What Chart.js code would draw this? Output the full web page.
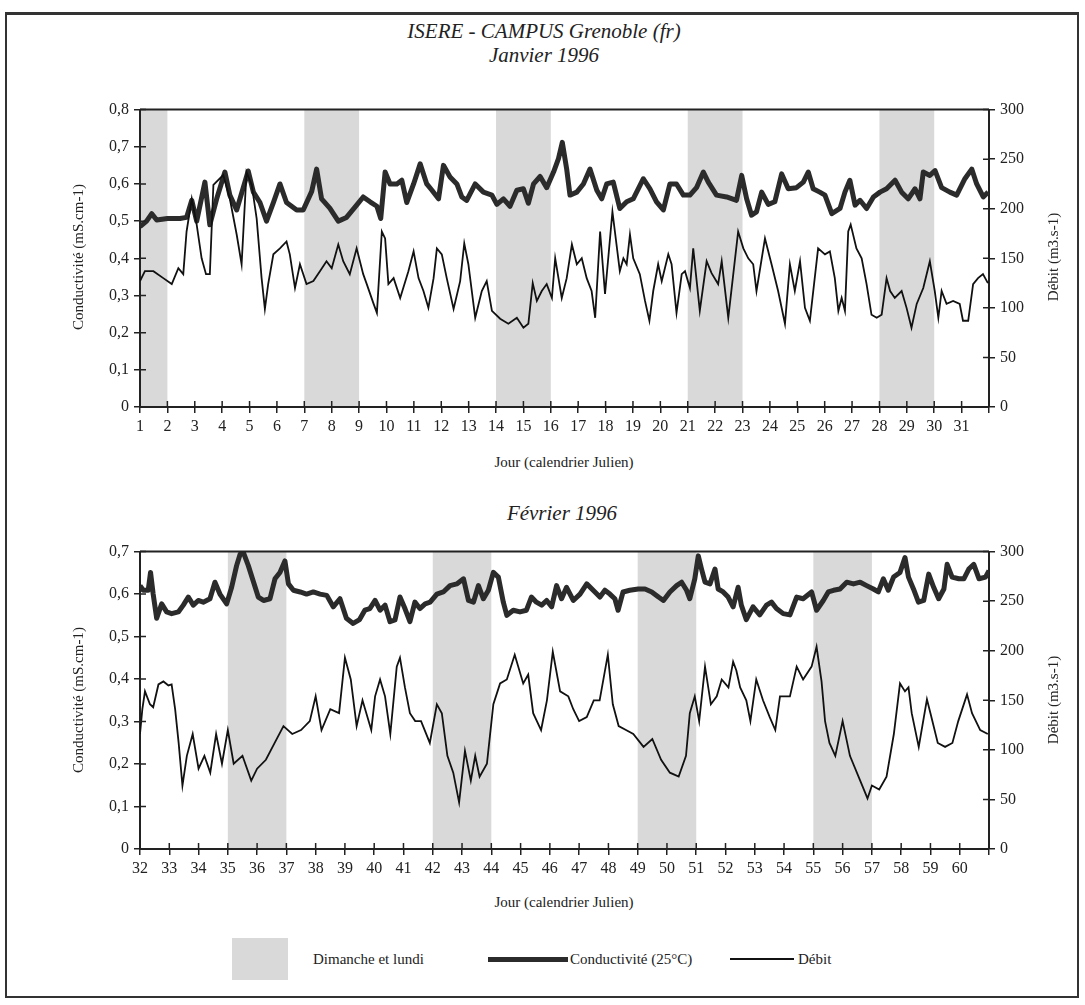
<!DOCTYPE html>
<html>
<head>
<meta charset="utf-8">
<script src="https://cdn.jsdelivr.net/npm/chart.js@4.4.0/dist/chart.umd.min.js"></script>
<style>
body{margin:0;background:#fff;width:1085px;height:1005px;position:relative;overflow:hidden;font-family:"Liberation Serif","Times New Roman",serif;color:#222}
#frame{position:absolute;left:5px;top:12px;width:1074px;height:986px;border:2px solid #333;border-top-width:3px;box-sizing:border-box}
.t{position:absolute;width:400px;margin-left:-200px;text-align:center;font-style:italic;font-size:21px;line-height:24px}
canvas{position:absolute;left:0}
.ax{position:absolute;font-size:15px;white-space:nowrap;transform:translate(-50%,-50%) rotate(-90deg)}
.xt{position:absolute;width:400px;margin-left:-200px;text-align:center;font-size:15px;line-height:18px}
.lg{position:absolute;font-size:15px;line-height:18px;white-space:nowrap}
</style>
</head>
<body>
<div id="frame"></div>
<div class="t" style="left:544px;top:19px">ISERE - CAMPUS Grenoble (fr)</div>
<div class="t" style="left:544px;top:43px">Janvier 1996</div>
<div class="t" style="left:562px;top:501px">Février 1996</div>

<canvas id="c1" width="1085" height="355" style="top:95px"></canvas>
<canvas id="c2" width="1085" height="355" style="top:537px"></canvas>

<div class="ax" style="left:78px;top:257px">Conductivité (mS.cm-1)</div>
<div class="ax" style="left:1053px;top:257px">Débit (m3.s-1)</div>
<div class="ax" style="left:78px;top:700px">Conductivité (mS.cm-1)</div>
<div class="ax" style="left:1053px;top:700px">Débit (m3.s-1)</div>
<div class="xt" style="left:564px;top:453px">Jour (calendrier Julien)</div>
<div class="xt" style="left:564px;top:893px">Jour (calendrier Julien)</div>

<div style="position:absolute;left:232px;top:938px;width:56px;height:42px;background:#d9d9d9"></div>
<div class="lg" style="left:313px;top:950px">Dimanche et lundi</div>
<div style="position:absolute;left:488px;top:957px;width:80px;height:5px;background:#2b2b2b"></div>
<div class="lg" style="left:570px;top:950px">Conductivité (25°C)</div>
<div style="position:absolute;left:730px;top:958px;width:64px;height:2px;background:#111"></div>
<div class="lg" style="left:798px;top:950px">Débit</div>

<script>
// Janvier : conductivité (mS/cm)
var janCondDay = [1.0,1.24,1.43,1.61,2.0,2.46,2.7,2.89,3.07,3.37,
  3.55,3.8,4.1,4.28,4.53,4.95,5.14,5.38,5.62,5.87,
  6.11,6.35,6.72,6.96,7.27,7.45,7.63,7.93,8.24,8.54,
  8.91,9.15,9.4,9.65,9.79,9.95,10.13,10.38,10.56,10.74,
  10.99,11.23,11.47,11.66,11.9,12.08,12.32,12.57,12.75,12.93,
  13.24,13.54,13.85,14.03,14.27,14.51,14.76,15.0,15.18,15.37,
  15.61,15.85,16.1,16.28,16.42,16.58,16.7,16.95,17.19,17.43,
  17.68,17.86,18.04,18.28,18.52,18.77,19.01,19.38,19.62,19.86,
  20.11,20.35,20.59,20.84,21.08,21.32,21.57,21.75,22.05,22.42,
  22.78,22.97,23.15,23.33,23.51,23.7,23.94,24.18,24.43,24.67,
  24.97,25.22,25.4,25.58,25.82,26.01,26.26,26.56,26.74,26.92,
  27.11,27.29,27.53,27.78,28.02,28.26,28.57,28.81,29.05,29.3,
  29.48,29.6,29.84,30.03,30.27,30.57,30.82,31.12,31.37,31.55,
  31.79,31.97];
var janCond = [0.485,0.50,0.52,0.503,0.507,0.507,0.51,0.556,0.50,0.605,
  0.49,0.56,0.632,0.57,0.53,0.635,0.578,0.55,0.50,0.55,
  0.60,0.55,0.53,0.53,0.58,0.64,0.56,0.535,0.50,0.51,
  0.543,0.565,0.552,0.54,0.507,0.632,0.60,0.60,0.61,0.55,
  0.60,0.654,0.60,0.583,0.56,0.65,0.619,0.60,0.565,0.556,
  0.60,0.578,0.57,0.545,0.56,0.54,0.583,0.587,0.548,0.60,
  0.62,0.59,0.632,0.668,0.712,0.64,0.57,0.578,0.60,0.64,
  0.583,0.56,0.60,0.605,0.534,0.552,0.56,0.614,0.587,0.552,
  0.53,0.60,0.60,0.57,0.57,0.59,0.632,0.605,0.57,0.565,
  0.556,0.623,0.56,0.516,0.525,0.578,0.545,0.552,0.627,0.587,
  0.59,0.605,0.632,0.587,0.578,0.57,0.52,0.534,0.578,0.61,
  0.543,0.556,0.534,0.565,0.578,0.587,0.61,0.578,0.56,0.587,
  0.56,0.632,0.623,0.636,0.59,0.578,0.57,0.614,0.64,0.60,
  0.565,0.578];

// Janvier : débit (m3/s)
var janQDay = [1.0,1.18,1.49,1.85,2.16,2.4,2.58,2.7,2.89,3.07,
  3.25,3.41,3.55,3.68,4.04,4.28,4.53,4.71,4.89,5.08,
  5.26,5.44,5.56,5.68,5.87,6.11,6.35,6.47,6.66,6.84,
  7.08,7.33,7.57,7.81,8.0,8.24,8.42,8.66,8.91,9.15,
  9.28,9.53,9.65,9.83,9.95,10.07,10.26,10.5,10.8,10.99,
  11.17,11.35,11.53,11.72,11.84,12.02,12.2,12.45,12.69,12.84,
  12.99,13.24,13.48,13.66,13.85,14.15,14.45,14.76,15.0,15.18,
  15.34,15.49,15.67,15.85,16.04,16.16,16.4,16.58,16.77,16.95,
  17.13,17.31,17.49,17.62,17.8,17.98,18.25,18.52,18.65,18.77,
  18.89,19.01,19.25,19.44,19.6,19.74,19.92,20.05,20.29,20.41,
  20.59,20.78,20.9,21.08,21.2,21.44,21.69,21.87,22.11,22.24,
  22.48,22.84,23.03,23.21,23.39,23.51,23.82,24.06,24.3,24.55,
  24.73,24.91,25.1,25.28,25.46,25.76,26.01,26.19,26.37,26.5,
  26.62,26.74,26.86,26.95,27.16,27.35,27.53,27.71,27.9,28.08,
  28.26,28.39,28.56,28.81,28.99,29.17,29.36,29.6,29.84,30.02,
  30.15,30.27,30.45,30.69,30.93,31.05,31.24,31.42,31.6,31.78,
  31.96];
var janQ = [127,137,137,130,124,140,134,177,210,184,
  150,134,134,224,234,210,174,144,237,224,
  190,130,99,124,154,160,167,154,120,144,
  124,127,137,147,140,164,147,134,160,134,
  124,104,95,177,170,124,130,110,137,157,
  130,117,100,130,160,154,130,99,127,165,
  144,90,117,127,97,89,84,90,80,84,
  125,107,117,124,110,150,110,130,164,144,
  150,130,117,90,177,114,197,137,150,144,
  174,150,134,107,87,117,144,127,154,144,
  95,134,137,120,160,97,147,135,124,147,
  90,177,160,150,144,117,170,144,117,84,
  144,117,147,100,87,160,154,157,130,97,
  110,97,177,184,160,150,124,93,90,93,
  130,117,110,117,100,80,104,120,147,117,
  90,117,104,107,104,87,87,124,130,134,
  125];

// Février : conductivité
var febCondDay = [32.0,32.11,32.28,32.36,32.45,32.57,32.74,32.91,33.08,33.31,
  33.48,33.65,33.82,33.99,34.16,34.39,34.56,34.73,34.96,35.13,
  35.3,35.42,35.53,35.7,35.88,36.04,36.22,36.44,36.61,36.78,
  36.95,37.07,37.24,37.47,37.69,37.92,38.15,38.38,38.6,38.83,
  39.05,39.28,39.5,39.68,39.85,40.03,40.2,40.37,40.54,40.71,
  40.88,41.05,41.22,41.39,41.56,41.74,41.91,42.14,42.36,42.59,
  42.82,43.05,43.22,43.39,43.56,43.73,43.9,44.07,44.24,44.41,
  44.53,44.75,44.98,45.2,45.37,45.54,45.72,45.89,46.06,46.23,
  46.4,46.57,46.8,47.03,47.26,47.54,47.71,47.88,48.05,48.22,
  48.33,48.5,48.73,49.02,49.25,49.48,49.71,49.88,50.1,50.33,
  50.5,50.67,50.78,50.95,51.07,51.18,51.3,51.47,51.64,51.75,
  51.92,52.09,52.26,52.43,52.54,52.71,52.94,53.17,53.4,53.57,
  53.74,53.97,54.2,54.43,54.65,54.94,55.11,55.34,55.51,55.69,
  55.91,56.14,56.37,56.6,56.82,57.05,57.22,57.39,57.56,57.74,
  57.96,58.13,58.25,58.42,58.59,58.77,58.94,59.11,59.28,59.46,
  59.57,59.74,59.97,60.14,60.31,60.48,60.66,60.88,61.0];
var febCond = [0.62,0.609,0.609,0.651,0.60,0.543,0.577,0.558,0.554,0.558,
  0.574,0.593,0.574,0.585,0.581,0.589,0.628,0.60,0.577,0.616,
  0.667,0.694,0.698,0.667,0.628,0.593,0.585,0.589,0.636,0.651,
  0.678,0.624,0.609,0.605,0.60,0.605,0.60,0.597,0.57,0.589,
  0.543,0.531,0.54,0.562,0.566,0.585,0.562,0.574,0.535,0.539,
  0.593,0.566,0.535,0.581,0.566,0.577,0.581,0.60,0.605,0.62,
  0.624,0.636,0.585,0.581,0.62,0.589,0.609,0.651,0.64,0.581,
  0.55,0.562,0.558,0.562,0.593,0.581,0.574,0.585,0.57,0.62,
  0.589,0.616,0.585,0.60,0.624,0.605,0.593,0.609,0.60,0.589,
  0.562,0.605,0.609,0.612,0.612,0.605,0.593,0.585,0.605,0.62,
  0.628,0.609,0.589,0.636,0.69,0.659,0.628,0.624,0.659,0.612,
  0.605,0.593,0.57,0.616,0.574,0.54,0.57,0.551,0.574,0.581,
  0.566,0.554,0.551,0.593,0.589,0.605,0.562,0.585,0.605,0.609,
  0.612,0.628,0.624,0.628,0.62,0.612,0.605,0.636,0.609,0.64,
  0.651,0.686,0.64,0.612,0.581,0.585,0.647,0.616,0.589,0.612,
  0.67,0.64,0.636,0.636,0.659,0.67,0.636,0.64,0.655];

// Février : débit
var febQDay = [32.0,32.08,32.17,32.34,32.45,32.63,32.8,32.97,33.08,33.2,
  33.32,33.45,33.6,33.8,34.0,34.2,34.4,34.6,34.8,35.0,
  35.2,35.5,35.8,36.0,36.3,36.6,36.9,37.2,37.5,37.8,
  38.0,38.2,38.5,38.8,39.0,39.2,39.4,39.6,39.9,40.03,
  40.2,40.37,40.55,40.77,40.88,41.05,41.22,41.4,41.6,41.9,
  42.14,42.31,42.5,42.7,42.9,43.1,43.3,43.45,43.6,43.85,
  44.07,44.3,44.53,44.8,45.09,45.26,45.43,45.7,45.9,46.1,
  46.35,46.63,46.8,47.0,47.26,47.5,47.7,47.98,48.15,48.35,
  48.6,48.85,49.2,49.5,49.8,50.1,50.4,50.65,50.78,50.95,
  51.1,51.3,51.5,51.7,51.87,52.1,52.26,52.37,52.5,52.71,
  52.85,53.05,53.28,53.51,53.7,53.86,54.2,54.43,54.65,54.94,
  55.11,55.28,55.4,55.55,55.75,56.0,56.25,56.6,56.85,57.0,
  57.25,57.5,57.75,57.96,58.13,58.25,58.36,58.6,58.88,59.0,
  59.25,59.5,59.75,59.95,60.25,60.42,60.7,60.96];
var febQ = [116,141,159,146,143,166,169,165,166,141,
  107,64,94,116,81,94,77,116,86,120,
  86,94,69,81,90,107,124,116,120,129,
  154,120,141,137,193,171,124,150,120,154,
  171,154,116,184,193,163,137,129,129,107,
  146,137,94,77,47,99,69,94,73,86,
  146,167,171,196,167,176,137,120,150,199,
  159,154,141,129,133,150,150,196,146,124,
  120,116,103,111,90,77,73,94,137,154,
  129,184,146,154,171,163,189,180,163,150,
  129,171,150,133,120,154,154,184,171,184,
  204,169,129,107,94,129,94,69,51,64,
  60,73,116,167,159,163,137,103,151,137,
  107,103,107,129,156,137,120,116];

// dimanche + lundi
var janBandStart = [1, 7, 14, 21, 28];
var janBandEnd   = [2, 9, 16, 23, 30];
var febBandStart = [35, 42, 49, 55];
var febBandEnd   = [37, 44, 51, 57];

function pts(xs, ys) {
  return xs.map(function(x, i) { return {x: x, y: ys[i]}; });
}

var INK = '#222';
var tickFont = {family: '"Liberation Serif", "Times New Roman", serif', size: 16};

var decor = {
  id: 'decor',
  beforeDraw: function(chart, args, opts) {
    var ctx = chart.ctx, a = chart.chartArea, x = chart.scales.x;
    ctx.save();
    ctx.fillStyle = '#d9d9d9';
    for (var i = 0; i < opts.start.length; i++) {
      var x0 = x.getPixelForValue(opts.start[i]);
      var x1 = x.getPixelForValue(opts.end[i]);
      ctx.fillRect(x0, a.top, x1 - x0, a.bottom - a.top);
    }
    ctx.restore();
  },
  afterDraw: function(chart) {
    var ctx = chart.ctx, a = chart.chartArea, s = chart.scales;
    ctx.save();
    ctx.strokeStyle = INK;
    ctx.lineWidth = 2;
    ctx.beginPath();
    ctx.moveTo(a.left, a.top); ctx.lineTo(a.right, a.top);
    ctx.stroke();
    ctx.lineWidth = 1.5;
    ctx.beginPath();
    s.x.ticks.forEach(function(t) {
      var px = s.x.getPixelForValue(t.value);
      ctx.moveTo(px, a.bottom); ctx.lineTo(px, a.bottom - 6);
    });
    s.y.ticks.forEach(function(t) {
      var py = s.y.getPixelForValue(t.value);
      ctx.moveTo(a.left, py); ctx.lineTo(a.left + 6, py);
    });
    s.y2.ticks.forEach(function(t) {
      var py = s.y2.getPixelForValue(t.value);
      ctx.moveTo(a.right, py); ctx.lineTo(a.right - 6, py);
    });
    ctx.stroke();
    ctx.restore();
  }
};

function axisCfg(pos, min, max, step, fmt, w) {
  return {
    position: pos, min: min, max: max,
    ticks: {stepSize: step, color: INK, font: tickFont, padding: 5, callback: fmt},
    grid: {drawOnChartArea: false, tickLength: 6, color: INK, lineWidth: 1.5},
    border: {color: INK, width: 2},
    afterFit: function(sc) { sc.width = w; }
  };
}

function makeChart(id, xmin, xmax, cond, cDay, q, qDay, cmax, bs, be) {
  return new Chart(document.getElementById(id), {
    type: 'line',
    data: {
      datasets: [
        {label: 'Débit', data: pts(qDay, q), yAxisID: 'y2', borderColor: '#111', borderWidth: 1.8,
         pointRadius: 0, tension: 0},
        {label: 'Conductivité (25°C)', data: pts(cDay, cond), yAxisID: 'y', borderColor: '#2b2b2b', borderWidth: 5,
         pointRadius: 0, tension: 0, borderJoinStyle: 'round'}
      ]
    },
    options: {
      responsive: false, animation: false, devicePixelRatio: 1,
      layout: {padding: {top: 12, left: 0, right: 0, bottom: 0}},
      plugins: {legend: {display: false}, tooltip: {enabled: false}, decor: {start: bs, end: be}},
      scales: {
        x: {
          type: 'linear', min: xmin, max: xmax,
          ticks: {stepSize: 1, autoSkip: false, maxRotation: 0, color: INK, font: tickFont, padding: 4,
                  callback: function(v) { return v < xmax ? v : ''; }},
          grid: {drawOnChartArea: false, tickLength: 6, color: INK, lineWidth: 1.5},
          border: {color: INK, width: 2},
          afterFit: function(sc) { sc.height = 43; }
        },
        y: axisCfg('left', 0, cmax, 0.1, function(v) { return v === 0 ? '0' : v.toFixed(1).replace('.', ','); }, 140),
        y2: axisCfg('right', 0, 300, 50, function(v) { return v; }, 96)
      }
    },
    plugins: [decor]
  });
}

makeChart('c1', 1, 32, janCond, janCondDay, janQ, janQDay, 0.8, janBandStart, janBandEnd);
makeChart('c2', 32, 61, febCond, febCondDay, febQ, febQDay, 0.7, febBandStart, febBandEnd);
</script>
</body>
</html>
